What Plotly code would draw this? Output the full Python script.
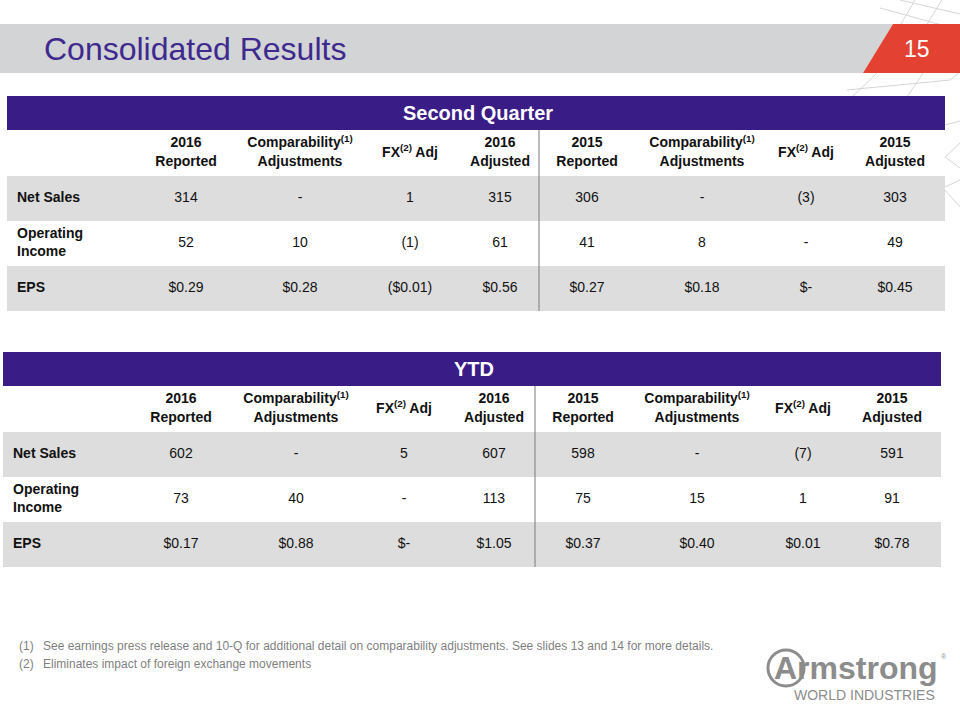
import plotly.graph_objects as go

# ---------------- data ----------------
title = "Consolidated Results"
page_number = "15"
table_titles = ["Second Quarter", "YTD"]
column_headers = [
    "2016<br>Reported",
    "Comparability<sup>(1)</sup><br>Adjustments",
    "FX<sup>(2)</sup> Adj",
    "2016<br>Adjusted",
    "2015<br>Reported",
    "Comparability<sup>(1)</sup><br>Adjustments",
    "FX<sup>(2)</sup> Adj",
    "2015<br>Adjusted",
]
row_labels = ["Net Sales", "Operating<br>Income", "EPS"]

q2_net_sales = ["314", "-", "1", "315", "306", "-", "(3)", "303"]
q2_operating_income = ["52", "10", "(1)", "61", "41", "8", "-", "49"]
q2_eps = ["$0.29", "$0.28", "($0.01)", "$0.56", "$0.27", "$0.18", "$-", "$0.45"]

ytd_net_sales = ["602", "-", "5", "607", "598", "-", "(7)", "591"]
ytd_operating_income = ["73", "40", "-", "113", "75", "15", "1", "91"]
ytd_eps = ["$0.17", "$0.88", "$-", "$1.05", "$0.37", "$0.40", "$0.01", "$0.78"]

footnote_marks = ["(1)", "(2)"]
footnotes = [
    "See earnings press release and 10-Q for additional detail on comparability adjustments. See slides 13 and 14 for more details.",
    "Eliminates impact of foreign exchange movements",
]

# ---------------- styles / layout geometry ----------------
FONT = "Liberation Sans, Arial, sans-serif"
PURPLE = "#3A1C87"
TITLE_PURPLE = "#3E2A8E"
BAR_GREY = "#D3D4D6"
RED = "#E34232"
ROW_GREY = "#DDDDDD"
TEXT = "#111111"
NOTE_GREY = "#7F7F7F"
LOGO_GREY = "#8C8C8C"

tables = [
    dict(name=table_titles[0], rows=[q2_net_sales, q2_operating_income, q2_eps],
         left=7, right=945, top=96, head_h=34, colhead_h=46, row_h=45,
         col_x=[186, 300, 410, 500, 587, 702, 806, 895], label_x=17, divider_x=539),
    dict(name=table_titles[1], rows=[ytd_net_sales, ytd_operating_income, ytd_eps],
         left=3, right=941, top=352, head_h=34, colhead_h=46, row_h=45,
         col_x=[181, 296, 404, 494, 583, 697, 803, 892], label_x=13, divider_x=535),
]

fig = go.Figure()
shapes = []

# decorative mesh lines (top-right)
deco = [
    ((915, 0), (880, 60)), ((942, 0), (905, 60)), ((880, 8), (960, 30)),
    ((900, 0), (960, 14)), ((877, 73), (849, 100)), ((847, 90), (950, 80)),
    ((923, 73), (905, 100)), ((950, 80), (960, 72)), ((945, 125), (960, 121)),
    ((945, 157), (960, 143)), ((945, 157), (960, 168)), ((945, 187), (960, 180)),
    ((945, 190), (960, 207)),
]
for (x0, y0), (x1, y1) in deco:
    shapes.append(dict(type="line", x0=x0, y0=y0, x1=x1, y1=y1, xref="x", yref="y",
                       line=dict(color="#D6D6D6", width=1), layer="below"))

# title bar + red page tab
shapes.append(dict(type="path", path="M 0,24 L 893,24 L 863,73 L 0,73 Z",
                   fillcolor=BAR_GREY, line=dict(width=0), xref="x", yref="y", layer="below"))
shapes.append(dict(type="path", path="M 893,24 L 960,24 L 960,73 L 863,73 Z",
                   fillcolor=RED, line=dict(width=0), xref="x", yref="y", layer="below"))

annotations = [
    dict(x=42, y=49, text=title, showarrow=False, xanchor="left", yanchor="middle",
         font=dict(family=FONT, size=32, color=TITLE_PURPLE)),
    dict(x=917, y=49, text=page_number, showarrow=False, xanchor="center", yanchor="middle",
         font=dict(family=FONT, size=23, color="white")),
]

for t in tables:
    top, left, right = t["top"], t["left"], t["right"]
    hb = top + t["head_h"]
    cb = hb + t["colhead_h"]
    # purple heading band
    shapes.append(dict(type="rect", x0=left, x1=right, y0=top, y1=hb, fillcolor=PURPLE,
                       line=dict(width=0), xref="x", yref="y", layer="below"))
    annotations.append(dict(x=(left + right) / 2 + 2, y=(top + hb) / 2, text="<b>" + t["name"] + "</b>",
                            showarrow=False, xanchor="center", yanchor="middle",
                            font=dict(family=FONT, size=20, color="white")))
    # row bands
    row_y = []
    for i in range(len(t["rows"])):
        y0 = cb + i * t["row_h"]
        y1 = y0 + t["row_h"]
        row_y.append((y0 + y1) / 2)
        if i % 2 == 0:
            shapes.append(dict(type="rect", x0=left, x1=right, y0=y0, y1=y1, fillcolor=ROW_GREY,
                               line=dict(width=0), xref="x", yref="y", layer="below"))
    bottom = cb + len(t["rows"]) * t["row_h"]
    shapes.append(dict(type="line", x0=t["divider_x"], x1=t["divider_x"], y0=hb, y1=bottom,
                       line=dict(color="#7A7A7A", width=1), xref="x", yref="y", layer="above"))

    # column headers
    fig.add_trace(go.Scatter(
        x=t["col_x"], y=[(hb + cb) / 2] * len(column_headers),
        text=["<b>" + h + "</b>" for h in column_headers], mode="text",
        textposition="middle center", hoverinfo="skip", showlegend=False,
        textfont=dict(family=FONT, size=14, color=TEXT)))
    # row labels
    fig.add_trace(go.Scatter(
        x=[t["label_x"]] * len(row_labels), y=row_y,
        text=["<b>" + r + "</b>" for r in row_labels], mode="text",
        textposition="middle right", hoverinfo="skip", showlegend=False,
        textfont=dict(family=FONT, size=14, color=TEXT)))
    # values
    xs, ys, txt = [], [], []
    for ry, row in zip(row_y, t["rows"]):
        for cx, v in zip(t["col_x"], row):
            xs.append(cx)
            ys.append(ry)
            txt.append(v)
    fig.add_trace(go.Scatter(
        x=xs, y=ys, text=txt, mode="text", textposition="middle center",
        hoverinfo="skip", showlegend=False,
        textfont=dict(family=FONT, size=14, color=TEXT)))

# footnotes
for i, (m, n) in enumerate(zip(footnote_marks, footnotes)):
    y = 646 + i * 18
    annotations.append(dict(x=17, y=y, text=m, showarrow=False, xanchor="left", yanchor="middle",
                            font=dict(family=FONT, size=12, color=NOTE_GREY)))
    annotations.append(dict(x=41, y=y, text=n, showarrow=False, xanchor="left", yanchor="middle",
                            font=dict(family=FONT, size=12, color=NOTE_GREY)))

# logo
shapes.append(dict(type="circle", x0=768, x1=804, y0=650, y1=686, xref="x", yref="y",
                   line=dict(color=LOGO_GREY, width=3), layer="above"))
annotations.append(dict(x=772, y=668, text="<b>Armstrong</b>", showarrow=False, xanchor="left",
                        yanchor="middle", font=dict(family=FONT, size=32, color=LOGO_GREY)))
annotations.append(dict(x=939, y=656, text="®", showarrow=False, xanchor="left", yanchor="middle",
                        font=dict(family=FONT, size=7, color=LOGO_GREY)))
annotations.append(dict(x=937, y=695, text="WORLD INDUSTRIES", showarrow=False, xanchor="right",
                        yanchor="middle", font=dict(family=FONT, size=14, color=LOGO_GREY)))

fig.update_layout(
    width=960, height=720,
    margin=dict(l=0, r=0, t=0, b=0),
    paper_bgcolor="white", plot_bgcolor="white",
    xaxis=dict(range=[0, 960], visible=False, fixedrange=True),
    yaxis=dict(range=[720, 0], visible=False, fixedrange=True),
    shapes=shapes, annotations=annotations,
    showlegend=False,
)

fig.write_html("out.html", config={"displayModeBar": False},
               post_script="document.body.style.margin='0';document.body.style.padding='0';")
